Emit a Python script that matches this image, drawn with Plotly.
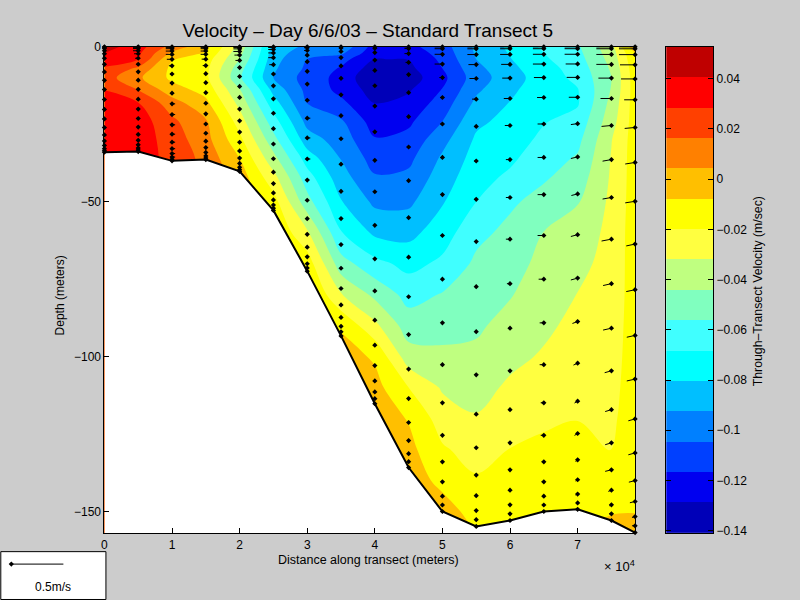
import numpy as np
import plotly.graph_objects as go

# ---------- data ----------
stations_m = [0, 5000, 10000, 15000, 20000, 25000, 30000, 35000, 40000, 45000, 50000,
              55000, 60000, 65000, 70000, 75000, 78500]
bottom_depth_m = [34, 33.8, 36.8, 36.4, 40.2, 52.8, 72.4, 93.3, 115.2, 135.8, 150,
                  154.8, 152.9, 150, 149.3, 152.9, 156.8]
sigma_levels = [0, .004, .016, .037, .066, .109, .166, .238, .318, .406, .5, .594, .684,
                .766, .836, .893, .936, .967, .986, 1.0]

grid_depth_m = [0, 2, 4, 7, 10, 14, 18, 24, 30, 36, 42, 50, 60, 70, 80, 90, 100, 110, 120,
                130, 140, 150, 157]

# velocity (m/s) per station, one value for each grid depth
velocity = [
 [.046, .0406, .0345, .027, .022, .0285, .032, .035, .036, .036, .036, .036, .036, .036, .036, .036, .036, .036, .036, .036, .036, .036, .036],
 [.034, .031, .0285, .014, .0065, .0164, .0285, .035, .035, .034, .034, .034, .034, .034, .034, .034, .034, .034, .034, .034, .034, .034, .034],
 [.012, .002, -.007, -.011, -.0105, -.002, .0092, .019, .023, .025, .025, .025, .025, .025, .025, .025, .025, .025, .025, .025, .025, .025, .025],
 [-.004, -.009, -.014, -.0165, -.017, -.012, -.005, .0057, .0085, .0125, .013, .013, .013, .013, .013, .013, .013, .013, .013, .013, .013, .013, .013],
 [-.036, -.040, -.0441, -.051, -.054, -.043, -.036, -.0257, -.0166, -.0078, -.001, 0, 0, 0, 0, 0, 0, 0, 0, 0, 0, 0, 0],
 [-.085, -.0865, -.088, -.0905, -.0925, -.084, -.0754, -.063, -.0518, -.040, -.028, -.0148, -.008, -.006, -.006, -.006, -.006, -.006, -.006, -.006, -.006, -.006, -.006],
 [-.095, -.100, -.1046, -.107, -.110, -.108, -.105, -.0964, -.0869, -.074, -.0632, -.0517, -.030, -.0132, -.005, -.004, -.004, -.004, -.004, -.004, -.004, -.004, -.004],
 [-.095, -.102, -.112, -.118, -.1205, -.120, -.114, -.103, -.098, -.093, -.0876, -.0796, -.0675, -.051, -.031, -.0095, -.002, -.001, -.001, -.001, -.001, -.001, -.001],
 [-.122, -.1255, -.129, -.135, -.14, -.134, -.129, -.1225, -.1157, -.1096, -.1036, -.095, -.0827, -.0645, -.047, -.029, -.0095, -.0035, -.001, 0, 0, 0, 0],
 [-.12, -.124, -.1285, -.132, -.135, -.130, -.1256, -.119, -.113, -.1075, -.102, -.095, -.084, -.072, -.0604, -.0503, -.0385, -.0199, -.0086, -.0042, -.002, -.002, -.002],
 [-.110, -.112, -.114, -.1167, -.120, -.116, -.1115, -.1046, -.0964, -.0905, -.0866, -.0814, -.074, -.0658, -.0554, -.0486, -.0414, -.0334, -.0258, -.0184, -.0108, -.003, -.002],
 [-.09, -.091, -.0925, -.096, -.098, -.0945, -.090, -.083, -.0785, -.0755, -.0724, -.0683, -.0595, -.0538, -.05, -.046, -.0415, -.0363, -.031, -.0248, -.0184, -.012, -.008],
 [-.078, -.0795, -.081, -.0835, -.086, -.083, -.080, -.0767, -.0736, -.0704, -.0663, -.0582, -.053, -.0490, -.0449, -.040, -.035, -.030, -.0246, -.0196, -.0163, -.0130, -.012],
 [-.066, -.0683, -.070, -.073, -.074, -.0725, -.0712, -.069, -.0657, -.0618, -.0578, -.0518, -.0438, -.0405, -.0375, -.0343, -.0307, -.0263, -.022, -.0172, -.0125, -.009, -.008],
 [-.058, -.0595, -.061, -.0634, -.0656, -.069, -.0695, -.0644, -.0595, -.0548, -.0505, -.0448, -.0402, -.0359, -.0317, -.0288, -.0259, -.023, -.0202, -.0164, -.0125, -.009, -.008],
 [-.036, -.038, -.040, -.0425, -.0441, -.0432, -.0405, -.037, -.0325, -.0312, -.0305, -.0295, -.028, -.027, -.026, -.025, -.024, -.0228, -.0215, -.0203, -.0145, -.0085, -.004],
 [.002, -.0078, -.010, -.0125, -.0135, -.014, -.014, -.014, -.014, -.014, -.014, -.014, -.014, -.0145, -.015, -.015, -.015, -.015, -.015, -.0145, -.012, -.0083, -.002],
]

# eastward velocity (cm/s) per station, one value for each sigma level
u_cm_s = [
 [-2, -2, -2, -2, -2, -1, -1, -1, -1, -1, -1, -1, -1, -1, -1, -1, -1, -1, -1, -1],
 [-5, -5, -5, -5, -4, -3, -2, -1, -1, -1, -1, -1, -1, -1, -2, -2, -2, -2, -2, -1],
 [-6, -6, -6, -6, -6, -5, -3, -2, -2, 2, 3, 3, 3, 3, 3, 3, 3, 3, 2, 1],
 [-5, -5, -5, -5, -5, -4, -3, -1, -1, 1, 1, 1, 1, 1, 1, 1, 1, 1, 1, 1],
 [-6, -6, -6, -6, -5, -4, -2, -1, -1, 0, 0, 0, 0, 0, 0, 0, 0, 0, 0, 0],
 [-5, -5, -5, -5, -5, -4, -1, 0, 0, 0, 0, 0, 0, 0, 0, 0, 0, 0, 0, 0],
 [-3, -3, -3, -2, -2, -1, -1, 2, 3, 3, 3, 2, 1, 0, 0, 0, 0, 0, 0, 0],
 [-2, -2, -2, -1, 0, 0, 0, 0, 0, 0, 0, 0, 0, 0, 0, 0, 0, 0, 0, 0],
 [-1, -1, -1, -1, 0, 0, 0, 0, 0, 0, 0, 0, 0, 0, 0, 0, 0, 0, 0, 0],
 [-4, -4, -4, -3, -1, 0, 0, 0, 0, 0, 0, 0, 0, 0, 0, 0, 0, 0, 0, 0],
 [-7.5, -7.5, -7.5, -7.5, -3, -2, -2, -1, -1, -1, -1, 0, 0, 0, 0, 0, 0, 0, 0, 0],
 [-8.5, -8.5, -8.5, -7.5, -6.5, -4, -2, -2, -2, -1, -1, -1, 0, 0, 0, 0, 0, 0, 0, 0],
 [-9.5, -9.5, -9.5, -8.5, -7.5, -6, -5, -4, -4, -4, -3, -2, -2, -1, -1, -1, 0, 0, 0, 0],
 [-10.5, -10.5, -10.5, -10.5, -9.5, -6.5, -6, -6, -6, -6, -5, -4, -4, -3, -3, -2, -2, -1, -1, -1],
 [-12.5, -12.5, -12.5, -11.5, -10.5, -8.5, -6.5, -6.5, -6, -6.5, -6.5, -5, -4, -3, -3, -2, -2, -2, -1, -1],
 [-14.5, -14.5, -14.5, -14.5, -12.5, -10.5, -9.5, -8.5, -8.5, -9.5, -8, -8, -6.5, -6, -6, -6, -3, -2, -2, -1],
 [-15.5, -15.5, -15.5, -14.5, -13.5, -10.5, -10, -9.5, -9.5, -8.5, -8.5, -8, -8, -6.5, -6.5, -6, -5, -3, -3, -2],
]
# downward arrow-tip offset (m) per sigma level, for the two easternmost stations
tip_drop_m = [0, 0, 0, 0, 0, 0, .3, .5, .5, .6, .6, .6, .6, .6, .6, .5, .4, .3, 0, 0]

band_colors = ["#0000b8", "#0000f0", "#0040ff", "#0080ff", "#00bfff", "#00ffff", "#40ffff", "#80ffbf",
               "#bfff80", "#ffff40", "#ffff00", "#ffbf00", "#ff8000", "#ff4000", "#ff0000", "#bf0000"]
band_edges = [-.141, -.1288, -.1167, -.1046, -.0925, -.0804, -.0683, -.0562, -.0441, -.032, -.0199,
              -.0078, .0043, .0164, .0285, .0406, .0527]

legend_speed_m_s = 0.5

# ---------- derived ----------
METERS_PER_CM_S = 154.0   # 0.5 m/s spans 52 px, 1e4 m spans 67.5 px
FONT = "Liberation Sans, Arial, sans-serif"


def X(px):
    return (px - 2.7) / 796


def Y(py):
    return 1 - (py - 5) / 590


zmin, zmax = band_edges[0], band_edges[-1]
colorscale = []
for i, c in enumerate(band_colors):
    colorscale.append([(band_edges[i] - zmin) / (zmax - zmin), c])
    colorscale.append([(band_edges[i + 1] - zmin) / (zmax - zmin), c])
colorscale[0][0] = 0.0
colorscale[-1][0] = 1.0

z = np.array(velocity).T[::-1]
y_grid = -np.array(grid_depth_m, dtype=float)[::-1]

fig = go.Figure()

fig.add_trace(go.Contour(
    x=stations_m, y=y_grid, z=z, zmin=zmin, zmax=zmax,
    colorscale=colorscale, showscale=False,
    autocontour=False,
    contours=dict(start=band_edges[1], end=band_edges[-2], size=band_edges[2] - band_edges[1],
                  coloring="fill", showlines=False),
    line=dict(width=0), hoverinfo="skip", xaxis="x", yaxis="y"))

# white area below the sea bed
fig.add_trace(go.Scatter(
    x=stations_m + [stations_m[-1], stations_m[0]],
    y=[-d for d in bottom_depth_m] + [-157, -157],
    mode="lines", fill="toself", fillcolor="white", line=dict(width=0),
    hoverinfo="skip", xaxis="x", yaxis="y"))
fig.add_trace(go.Scatter(
    x=stations_m, y=[-d for d in bottom_depth_m], mode="lines",
    line=dict(color="black", width=2), hoverinfo="skip", xaxis="x", yaxis="y"))

# velocity vectors
qx, qy, px, py = [], [], [], []
for i, st in enumerate(stations_m):
    for k, s in enumerate(sigma_levels):
        d = s * bottom_depth_m[i]
        px.append(st)
        py.append(-d)
        drop = tip_drop_m[k] if i >= 14 else 0
        qx += [st, st + u_cm_s[i][k] * METERS_PER_CM_S, None]
        qy += [-d, -d - drop, None]
fig.add_trace(go.Scatter(x=qx, y=qy, mode="lines", line=dict(color="black", width=1),
                         hoverinfo="skip", xaxis="x", yaxis="y"))
fig.add_trace(go.Scatter(x=px, y=py, mode="markers",
                         marker=dict(symbol="diamond", size=4, color="black", line=dict(width=0)),
                         hoverinfo="skip", xaxis="x", yaxis="y", cliponaxis=False))

# colour bar drawn as its own axes
centers = [[(band_edges[i] + band_edges[i + 1]) / 2] for i in range(len(band_colors))]
fig.add_trace(go.Heatmap(x=[0, 1], y=band_edges, z=centers, zmin=zmin, zmax=zmax,
                         colorscale=colorscale, showscale=False, hoverinfo="skip",
                         xaxis="x2", yaxis="y2"))

# scale arrow
fig.add_trace(go.Scatter(x=[0, legend_speed_m_s], y=[0, 0], mode="lines",
                         line=dict(color="black", width=1), hoverinfo="skip", xaxis="x3", yaxis="y3"))
fig.add_trace(go.Scatter(x=[0], y=[0], mode="markers",
                         marker=dict(symbol="diamond", size=4, color="black", line=dict(width=0)),
                         hoverinfo="skip", xaxis="x3", yaxis="y3"))

axis_font = dict(family=FONT, size=12, color="black")
common = dict(showgrid=False, zeroline=False, showline=True, linecolor="black", linewidth=1,
              mirror=True, tickfont=axis_font, ticks="inside", ticklen=5, tickcolor="black", tickwidth=1)

fig.update_layout(
    width=800, height=600, autosize=False, showlegend=False,
    margin=dict(l=0, r=0, t=0, b=0),
    paper_bgcolor="#cccccc", plot_bgcolor="white",
    font=dict(family=FONT, color="black"),
    title=dict(text="Velocity – Day 6/6/03 – Standard Transect 5",
               x=X(367), xanchor="center", xref="paper", y=Y(28), yanchor="middle", yref="paper",
               font=dict(family=FONT, size=19, color="black")),
    xaxis=dict(domain=[X(104), X(634)], range=[0, 78500], anchor="y",
               tickvals=[0, 10000, 20000, 30000, 40000, 50000, 60000, 70000],
               ticktext=["0", "1", "2", "3", "4", "5", "6", "7"], **common),
    yaxis=dict(domain=[Y(533), Y(45)], range=[-157, 0], anchor="x",
               tickvals=[-150, -100, -50, 0], **common),
    xaxis2=dict(domain=[X(665), X(712)], range=[0, 1], anchor="y2", showgrid=False, zeroline=False,
                showticklabels=False, ticks="", showline=True, linecolor="black", mirror=True),
    yaxis2=dict(domain=[Y(533), Y(45)], range=[zmin, zmax], anchor="x2", side="right",
                tick0=0, dtick=0.02, showgrid=False, zeroline=False, showline=True, linecolor="black",
                mirror="ticks", ticks="inside", ticklen=5, tickcolor="black", tickfont=axis_font),
    xaxis3=dict(domain=[X(4), X(104)], range=[-0.0673, 0.8942], anchor="y3", showgrid=False, zeroline=False,
                showticklabels=False, ticks="", showline=False),
    yaxis3=dict(domain=[Y(594), Y(552)], range=[-30, 12], anchor="x3", showgrid=False, zeroline=False,
                showticklabels=False, ticks="", showline=False),
    shapes=[dict(type="rect", xref="paper", yref="paper", x0=X(0.5), x1=X(105.5), y0=Y(599.5), y1=Y(551.5),
                 fillcolor="white", line=dict(color="black", width=1), layer="below")],
    annotations=[
        dict(text="Distance along transect (meters)", x=X(368), y=Y(560), xref="paper", yref="paper",
             showarrow=False, xanchor="center", yanchor="middle",
             font=dict(family=FONT, size=12.5, color="black")),
        dict(text="Depth (meters)", x=X(60), y=Y(294), xref="paper", yref="paper", textangle=-90,
             showarrow=False, xanchor="center", yanchor="middle",
             font=dict(family=FONT, size=12, color="black")),
        dict(text="Through–Transect Velocity (m/sec)", x=X(757), y=Y(290), xref="paper", yref="paper",
             textangle=-90, showarrow=False, xanchor="center", yanchor="middle",
             font=dict(family=FONT, size=12.3, color="black")),
        dict(text="× 10<sup>4</sup>", x=X(636), y=Y(566), xref="paper", yref="paper",
             showarrow=False, xanchor="right", yanchor="middle",
             font=dict(family=FONT, size=13, color="black")),
        dict(text="0.5m/s", x=X(53), y=Y(587), xref="paper", yref="paper",
             showarrow=False, xanchor="center", yanchor="middle",
             font=dict(family=FONT, size=12, color="black")),
    ],
)

fig.write_html("out.html", include_plotlyjs=True, config={"displayModeBar": False},
               post_script="document.body.style.margin='0';document.body.style.overflow='hidden';")
